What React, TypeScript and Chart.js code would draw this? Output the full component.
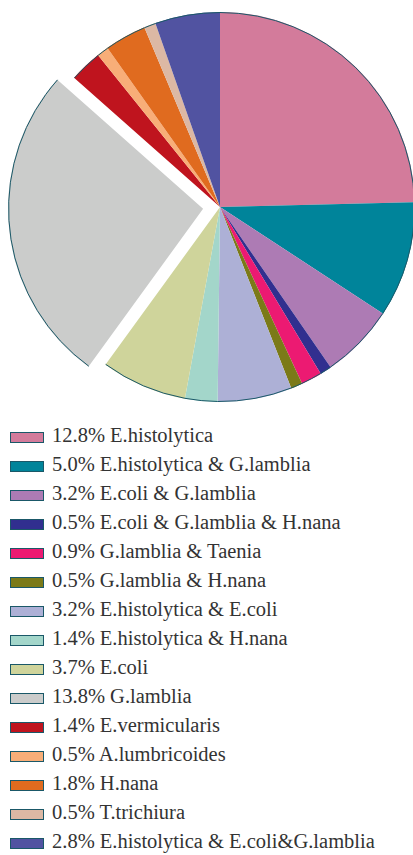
import React, { useEffect, useRef } from "react";
import { Chart, registerables } from "chart.js";

Chart.register(...registerables);

const labels = [
  "12.8% E.histolytica",
  "5.0% E.histolytica & G.lamblia",
  "3.2% E.coli & G.lamblia",
  "0.5% E.coli & G.lamblia & H.nana",
  "0.9% G.lamblia & Taenia",
  "0.5% G.lamblia & H.nana",
  "3.2% E.histolytica & E.coli",
  "1.4% E.histolytica & H.nana",
  "3.7% E.coli",
  "13.8% G.lamblia",
  "1.4% E.vermicularis",
  "0.5% A.lumbricoides",
  "1.8% H.nana",
  "0.5% T.trichiura",
  "2.8% E.histolytica & E.coli&G.lamblia",
];
const values = [12.8, 5.0, 3.2, 0.5, 0.9, 0.5, 3.2, 1.4, 3.7, 13.8, 1.4, 0.5, 1.8, 0.5, 2.8];
const colors = [
  "#d37b9b", "#00849a", "#ad7bb4", "#312f8f", "#ec1a72", "#7b7a18", "#adb0d6",
  "#a3d6ca", "#cfd49b", "#cbcccb", "#bf141e", "#f8ae78", "#e06b1f", "#dcb8a4", "#5153a1",
];
const offsets = [0, 0, 0, 0, 0, 0, 0, 0, 0, 68, 0, 0, 0, 0, 0];
const EDGE = "#1a5868";

const outerEdge = {
  id: "outerEdge",
  afterDatasetsDraw(chart: any) {
    const ctx = chart.ctx;
    const meta = chart.getDatasetMeta(0);
    meta.data.forEach((arc: any, i: number) => {
      const { x, y, startAngle, endAngle, outerRadius } = arc.getProps(
        ["x", "y", "startAngle", "endAngle", "outerRadius"], true
      );
      const off = (offsets[i] || 0) / 4;
      const mid = (startAngle + endAngle) / 2;
      ctx.save();
      ctx.translate(Math.cos(mid) * off, Math.sin(mid) * off);
      ctx.beginPath();
      ctx.arc(x, y, outerRadius - 0.5, startAngle, endAngle);
      ctx.strokeStyle = EDGE;
      ctx.lineWidth = 1;
      ctx.stroke();
      ctx.restore();
    });
  },
};

export default function App() {
  const ref = useRef<HTMLCanvasElement | null>(null);
  useEffect(() => {
    if (!ref.current) return;
    const chart = new Chart(ref.current, {
      type: "pie",
      data: {
        labels,
        datasets: [
          {
            data: values,
            backgroundColor: colors,
            borderWidth: 0,
            offset: offsets,
          },
        ],
      },
      options: {
        animation: false,
        responsive: false,
        radius: 195,
        layout: { padding: { left: 27, right: 0, top: 0, bottom: 0 } },
        plugins: { legend: { display: false }, tooltip: { enabled: false } },
      } as any,
      plugins: [outerEdge],
    });
    return () => chart.destroy();
  }, []);

  return (
    <div style={{ position: "absolute", left: 0, top: 0, width: 413, height: 855, background: "#fff" }}>
      <canvas ref={ref} width={413} height={414} style={{ position: "absolute", left: 0, top: 0 }} />
      {labels.map((l, i) => (
        <div
          key={i}
          style={{
            position: "absolute",
            left: 10,
            top: 437 - 14.5 + 29 * i,
            height: 29,
            display: "flex",
            alignItems: "center",
            whiteSpace: "nowrap",
            fontFamily: "'Liberation Serif', serif",
            fontSize: 20.5,
            color: "#333",
          }}
        >
          <span
            style={{
              display: "inline-block",
              width: 32,
              height: 9,
              background: colors[i],
              border: `1.5px solid ${EDGE}`,
              marginRight: 8,
              flex: "none",
            }}
          />
          <span style={{ position: "relative", top: -1.5 }}>{l}</span>
        </div>
      ))}
    </div>
  );
}
